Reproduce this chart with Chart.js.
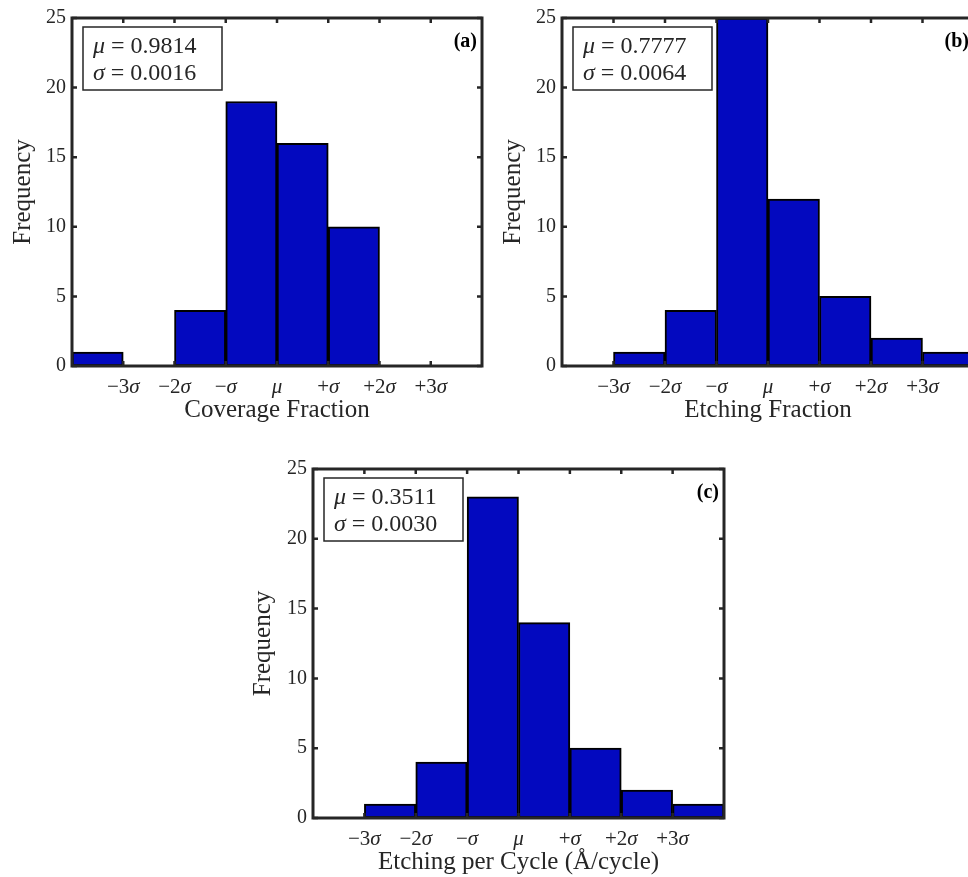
<!DOCTYPE html>
<html>
<head>
<meta charset="utf-8">
<script src="https://cdn.jsdelivr.net/npm/chart.js@4.4.1/dist/chart.umd.min.js"></script>
<style>
  html, body { margin: 0; padding: 0; background: #fff; }
  body { width: 968px; height: 877px; overflow: hidden; position: relative; }
  canvas { position: absolute; }
</style>
</head>
<body>
<canvas id="panelA" width="490" height="430" style="left:0;top:0"></canvas>
<canvas id="panelB" width="490" height="430" style="left:490px;top:0"></canvas>
<canvas id="panelC" width="500" height="427" style="left:240px;top:450px"></canvas>
<script>
// bins are one sigma wide, centred between the sigma ticks
const binCenters = [-3.5, -2.5, -1.5, -0.5, 0.5, 1.5, 2.5, 3.5];
const coverageCounts = [1, 0, 4, 19, 16, 10, 0, 0];
const etchingCounts = [0, 1, 4, 25, 12, 5, 2, 1];
const perCycleCounts = [0, 1, 4, 23, 14, 5, 2, 1];

const sigmaTicks = [-3, -2, -1, 0, 1, 2, 3];
const sigmaTickLabels = ["\u22123\u03c3", "\u22122\u03c3", "\u2212\u03c3", "\u03bc", "+\u03c3", "+2\u03c3", "+3\u03c3"];
const yTicks = [0, 5, 10, 15, 20, 25];

const panelTitles = ["Coverage Fraction", "Etching Fraction", "Etching per Cycle (\u00c5/cycle)"];
const panelTags = ["(a)", "(b)", "(c)"];
const panelMeans = ["0.9814", "0.7777", "0.3511"];
const panelSigmas = ["0.0016", "0.0064", "0.0030"];

const serif = "'Liberation Serif', 'Times New Roman', Times, serif";
const inkColor = "#262626";
const barBlue = "#0309bf";
Chart.defaults.font.family = serif;
Chart.defaults.color = inkColor;

// draws text where the greek letters are set in italic, like MATLAB's tex labels
function drawMixed(ctx, text, x, y, size, align) {
  const runs = [];
  for (const ch of text) {
    const italic = /[\u03bc\u03c3]/.test(ch);
    const last = runs[runs.length - 1];
    if (last && last.italic === italic) last.text += ch;
    else runs.push({ text: ch, italic });
  }
  let total = 0;
  runs.forEach((r) => {
    ctx.font = `${r.italic ? "italic " : ""}${size}px ${serif}`;
    r.w = ctx.measureText(r.text).width;
    total += r.w;
  });
  let cx = align === "center" ? x - total / 2 : x;
  runs.forEach((r) => {
    ctx.font = `${r.italic ? "italic " : ""}${size}px ${serif}`;
    ctx.textAlign = "left";
    ctx.fillText(r.text, cx, y);
    cx += r.w;
  });
}

const panelDecor = {
  id: "panelDecor",
  afterDatasetsDraw(chart, args, opts) {
    const { ctx, chartArea: a, scales: { x, y } } = chart;
    const tickLen = 5;
    ctx.save();
    ctx.strokeStyle = inkColor;
    ctx.lineWidth = 2.5;
    ctx.beginPath();
    sigmaTicks.forEach((v) => {
      const px = x.getPixelForValue(v);
      ctx.moveTo(px, a.bottom); ctx.lineTo(px, a.bottom - tickLen);
      ctx.moveTo(px, a.top); ctx.lineTo(px, a.top + tickLen);
    });
    yTicks.forEach((v) => {
      const py = y.getPixelForValue(v);
      ctx.moveTo(a.left, py); ctx.lineTo(a.left + tickLen, py);
      ctx.moveTo(a.right, py); ctx.lineTo(a.right - tickLen, py);
    });
    ctx.stroke();
    ctx.lineWidth = 3;
    ctx.strokeRect(a.left, a.top, a.right - a.left, a.bottom - a.top);

    ctx.fillStyle = inkColor;
    ctx.textBaseline = "middle";
    sigmaTickLabels.forEach((label, i) => {
      drawMixed(ctx, label, x.getPixelForValue(sigmaTicks[i]), a.bottom + 21, 21, "center");
    });

    // stats box
    ctx.lineWidth = 1.5;
    ctx.fillStyle = "#fff";
    ctx.fillRect(a.left + 11, a.top + 9, 139, 63);
    ctx.strokeRect(a.left + 11, a.top + 9, 139, 63);
    ctx.fillStyle = inkColor;
    drawMixed(ctx, `\u03bc = ${opts.mean}`, a.left + 21, a.top + 29, 24, "left");
    drawMixed(ctx, `\u03c3 = ${opts.sigma}`, a.left + 21, a.top + 56, 24, "left");

    ctx.font = `bold 20px ${serif}`;
    ctx.textAlign = "right";
    ctx.fillStyle = "#000";
    ctx.fillText(opts.tag, a.right - 5, a.top + 24);
    ctx.restore();
  }
};

function makePanel(id, counts, idx, geom) {
  const canvas = document.getElementById(id);
  return new Chart(canvas, {
    type: "bar",
    data: {
      datasets: [{
        data: binCenters.map((c, i) => ({ x: c, y: counts[i] })),
        backgroundColor: barBlue,
        borderColor: "#000",
        borderWidth: 2,
        borderSkipped: false,
        barPercentage: 1,
        categoryPercentage: 1
      }]
    },
    options: {
      responsive: false,
      animation: false,
      layout: { padding: { top: geom.padTop, right: geom.padRight, left: 0, bottom: 0 } },
      plugins: {
        legend: { display: false },
        tooltip: { enabled: false },
        panelDecor: { mean: panelMeans[idx], sigma: panelSigmas[idx], tag: panelTags[idx] }
      },
      scales: {
        x: {
          type: "linear",
          min: -4,
          max: 4,
          offset: false,
          grid: { display: false, offset: false },
          border: { display: false },
          ticks: { display: false },
          title: {
            display: true,
            text: panelTitles[idx],
            font: { size: 25 },
            color: inkColor,
            padding: { top: 0, bottom: geom.titlePad }
          },
          afterFit: (s) => { s.height = geom.xHeight; }
        },
        y: {
          min: 0,
          max: 25,
          grid: { display: false, drawTicks: false },
          border: { display: false },
          ticks: { stepSize: 5, padding: 6, font: { size: 20 }, color: inkColor },
          title: {
            display: true,
            text: "Frequency",
            font: { size: 25 },
            color: inkColor,
            padding: { top: 8, bottom: 0 }
          },
          afterFit: (s) => { s.width = geom.yWidth; }
        }
      }
    },
    plugins: [panelDecor]
  });
}

makePanel("panelA", coverageCounts, 0, { padTop: 16, padRight: 8, yWidth: 72, xHeight: 64, titlePad: 5 });
makePanel("panelB", etchingCounts, 1, { padTop: 16, padRight: 6, yWidth: 72, xHeight: 64, titlePad: 5 });
makePanel("panelC", perCycleCounts, 2, { padTop: 19, padRight: 16, yWidth: 73, xHeight: 59, titlePad: 0 });
</script>
</body>
</html>
